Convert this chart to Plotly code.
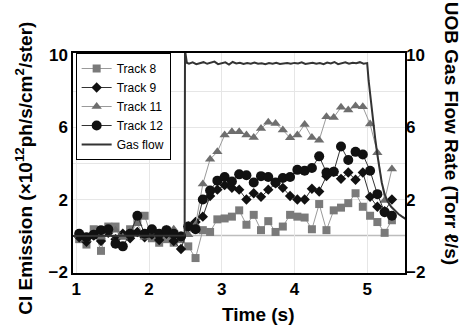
import plotly.graph_objects as go

# sample times (s)
time_s = [1.04, 1.14, 1.24, 1.34, 1.44, 1.54, 1.64, 1.74, 1.84, 1.94,
          2.04, 2.14, 2.24, 2.34, 2.44, 2.54, 2.64, 2.74, 2.84, 2.94,
          3.04, 3.14, 3.24, 3.34, 3.44, 3.54, 3.64, 3.74, 3.84, 3.94,
          4.04, 4.14, 4.24, 4.34, 4.44, 4.54, 4.64, 4.74, 4.84, 4.94,
          5.04, 5.14, 5.24, 5.34]

track8 = [-0.2, -0.5, 0.35, -0.85, 0.5, 0.5, 0.0, 0.35, 0.75, 1.1,
          -0.15, -0.4, -0.2, -0.4, -0.2, -0.6, -1.25, 0.3, 0.2, 0.9,
          0.95, 1.05, 1.4, 0.6, 1.15, 0.3, 0.8, 0.2, 0.5, 1.15,
          1.05, 1.0, 0.35, 1.75, 0.3, 1.4, 1.55, 1.8, 2.35, 1.6,
          1.1, 0.75, 0.15, 0.85]

track9 = [-0.1, -0.35, 0.0, -0.3, 0.15, -0.2, 0.1, -0.15, 0.2, -0.1,
          0.05, -0.25, 0.1, -0.3, -0.75, 0.5, 0.75, 1.05, 2.2, 2.55,
          2.8, 2.65, 2.55, 2.0, 2.35, 2.15, 2.55, 2.9, 2.65, 2.2,
          2.0, 2.0, 2.6, 2.45, 3.3, 3.55, 3.15, 3.5, 3.1, 3.5,
          2.15, 1.6, 1.35, 2.0]

track11 = [0.0, -0.2, 0.1, -0.1, 0.3, 0.3, -0.1, 0.2, 0.65, -0.1,
           0.2, 0.05, 0.35, 0.35, 0.0, 0.05, 0.6, 2.86, 4.24, 4.65,
           5.58, 5.77, 5.77, 5.58, 5.45, 5.95, 6.29, 6.23, 5.86, 5.43,
           5.58, 6.17, 5.45, 5.3, 6.6, 6.56, 7.12, 6.97, 7.19, 7.15,
           6.19, 4.6, 1.95, 3.7]

track12 = [0.1, -0.1, 0.05, 0.3, 0.35, -0.45, -0.6, 0.1, 1.1, 0.1,
           0.35, 0.1, 0.3, 0.1, -0.05, 0.5, 0.35, 2.0, 2.5, 3.05,
           3.25, 3.0, 3.4, 3.35, 2.95, 3.3, 3.25, 2.95, 3.2, 3.25,
           3.65, 3.6, 3.75, 4.4, 3.5, 3.55, 4.95, 4.2, 4.65, 4.5,
           3.6, 2.3, 1.3, 1.1]

gas_time = [0.95, 1.5, 2.0, 2.49, 2.495, 2.52,
            2.55, 2.60, 2.65, 2.70, 2.75, 2.80, 2.85, 2.90, 2.95, 3.00,
            3.05, 3.10, 3.15, 3.20, 3.25, 3.30, 3.35, 3.40, 3.45, 3.50,
            3.55, 3.60, 3.65, 3.70, 3.75, 3.80, 3.85, 3.90, 3.95, 4.00,
            4.05, 4.10, 4.15, 4.20, 4.25, 4.30, 4.35, 4.40, 4.45, 4.50,
            4.55, 4.60, 4.65, 4.70, 4.75, 4.80, 4.85, 4.90, 4.95, 5.00,
            5.02, 5.05, 5.08, 5.11, 5.14, 5.17, 5.20, 5.24, 5.28, 5.33,
            5.38, 5.43, 5.48, 5.53]
gas_flow = [-0.02, 0.0, -0.02, 0.0, 10.3, 9.6,
            9.55, 9.62, 9.52, 9.58, 9.63, 9.54, 9.60, 9.66, 9.52, 9.58,
            9.62, 9.50, 9.64, 9.56, 9.60, 9.53, 9.58, 9.55, 9.61, 9.54,
            9.57, 9.52, 9.58, 9.55, 9.60, 9.53, 9.56, 9.58, 9.54, 9.59,
            9.56, 9.62, 9.53, 9.57, 9.60, 9.54, 9.58, 9.52, 9.61, 9.56,
            9.64, 9.52, 9.58, 9.62, 9.54, 9.60, 9.57, 9.63, 9.55, 9.58,
            8.6, 7.5, 6.3, 5.4, 4.5, 3.6, 2.95, 2.3, 1.9, 1.6,
            1.38, 1.2, 1.05, 0.92]

y_ticks = [-2, 2, 6, 10]
x_ticks = [1, 2, 3, 4, 5]

FONT = "Liberation Sans"

fig = go.Figure()
fig.add_trace(go.Scatter(x=time_s, y=track8, name="Track 8", mode="lines+markers",
                         line=dict(color="#9a9a9a", width=1),
                         marker=dict(symbol="square", size=8, color="#7a7a7a")))
fig.add_trace(go.Scatter(x=time_s, y=track9, name="Track 9", mode="lines+markers",
                         line=dict(color="#333333", width=1),
                         marker=dict(symbol="diamond", size=8, color="#111111")))
fig.add_trace(go.Scatter(x=time_s, y=track11, name="Track 11", mode="lines+markers",
                         line=dict(color="#9a9a9a", width=1),
                         marker=dict(symbol="triangle-up", size=9, color="#6e6e6e")))
fig.add_trace(go.Scatter(x=time_s, y=track12, name="Track 12", mode="lines+markers",
                         line=dict(color="#333333", width=1),
                         marker=dict(symbol="circle", size=10, color="#111111")))
fig.add_trace(go.Scatter(x=gas_time, y=gas_flow, name="Gas flow", mode="lines",
                         line=dict(color="#333333", width=2), yaxis="y2"))

fig.update_layout(
    width=463, height=329,
    margin=dict(l=73, r=58, t=53, b=56),
    paper_bgcolor="white", plot_bgcolor="white",
    font=dict(family=FONT, color="black"),
    showlegend=True,
    legend=dict(x=0.008, y=1.0, xanchor="left", yanchor="top",
                bordercolor="black", borderwidth=1, bgcolor="white",
                font=dict(family=FONT, size=12, color="black"),
                itemwidth=30, tracegroupgap=0),
    xaxis=dict(range=[0.955, 5.52], tickvals=x_ticks, ticks="", automargin=False,
               showgrid=True, gridcolor="#e6e6e6", gridwidth=1,
               tickfont=dict(family=FONT, size=17, weight="bold"),
               mirror=True, showline=True, linecolor="black", linewidth=1.5, zeroline=False),
    yaxis=dict(range=[-2.08, 10.14], tickvals=y_ticks, ticks="", automargin=False,
               showgrid=False,
               tickfont=dict(family=FONT, size=17, weight="bold"),
               showline=True, linecolor="black", linewidth=1.5, zeroline=False, mirror=True),
    yaxis2=dict(range=[-2.08, 10.14], tickvals=y_ticks, ticks="", overlaying="y", side="right",
                showgrid=False, automargin=False,
                tickfont=dict(family=FONT, size=17, weight="bold"),
                showline=False, zeroline=False),
)

# faint horizontal gridlines and stronger zero line
for gy in [2, 4, 6, 8]:
    fig.add_hline(y=gy, line=dict(color="#e6e6e6", width=1), layer="below")
fig.add_hline(y=0, line=dict(color="#bdbdbd", width=1.5), layer="below")

fig.add_annotation(text="Time (s)", xref="paper", yref="paper", x=0.56, y=-0.19,
                   showarrow=False, font=dict(family=FONT, size=19, weight="bold"),
                   xanchor="center", yanchor="middle")
fig.add_annotation(text="CI Emission (×10<sup>12</sup>ph/s/cm<sup>2</sup>/ster)",
                   xref="paper", yref="paper", x=-0.15, y=0.475, textangle=-90,
                   showarrow=False, font=dict(family=FONT, size=19, weight="bold"),
                   xanchor="center", yanchor="middle")
fig.add_annotation(text="UOB Gas Flow Rate (Torr ℓ/s)",
                   xref="paper", yref="paper", x=1.14, y=0.635, textangle=90,
                   showarrow=False, font=dict(family=FONT, size=19, weight="bold"),
                   xanchor="center", yanchor="middle")

fig.write_html("out.html", config={"displayModeBar": False},
               post_script="document.body.style.margin='0';document.body.style.padding='0';")
